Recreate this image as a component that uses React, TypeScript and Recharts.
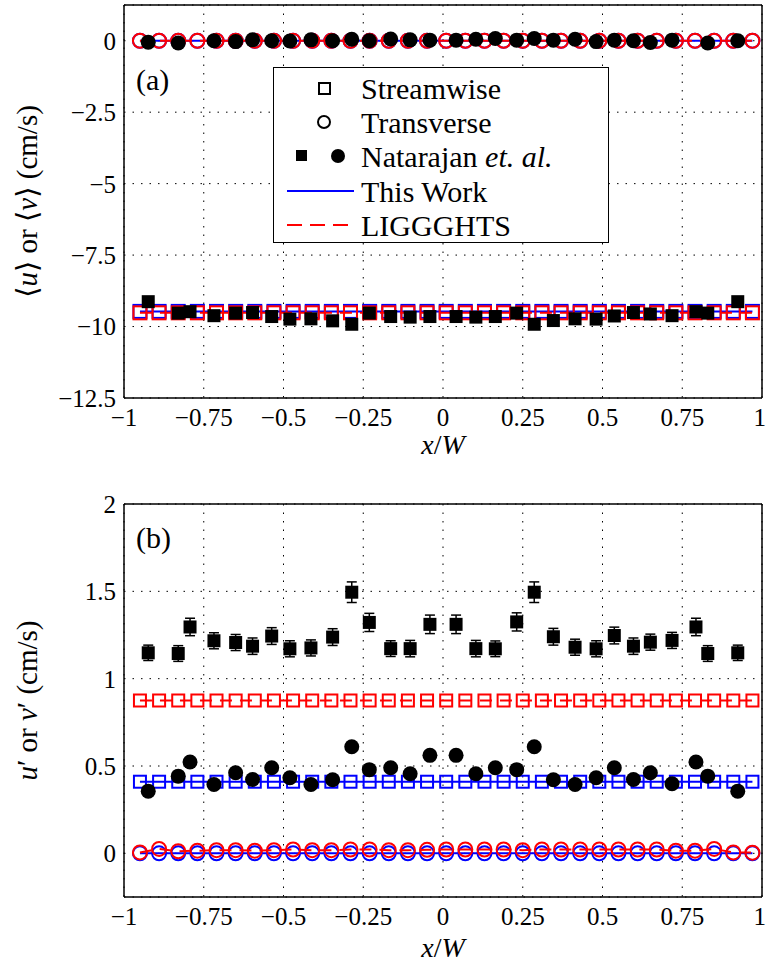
import React from 'react';
import { ComposedChart, Scatter, XAxis, YAxis, CartesianGrid, ErrorBar } from 'recharts';

const FONT = "'Liberation Serif', 'DejaVu Serif', serif";
const BLUE = '#0000ff';
const RED = '#ff0000';

const X_TICKS = [-1, -0.75, -0.5, -0.25, 0, 0.25, 0.5, 0.75, 1];
const Y_TICKS_A = [-12.5, -10, -7.5, -5, -2.5, 0];
const Y_TICKS_B = [0, 0.5, 1, 1.5, 2];

// sample positions of both simulations
const simX = [
  -0.95, -0.89, -0.83, -0.77, -0.71, -0.65, -0.59, -0.53, -0.47, -0.41, -0.35,
  -0.29, -0.23, -0.17, -0.11, -0.05, 0.01, 0.07, 0.13, 0.19, 0.25, 0.31,
  0.37, 0.43, 0.49, 0.55, 0.61, 0.67, 0.73, 0.79, 0.85, 0.91, 0.97,
];

// (a) mean velocity
const thisStreamA = [
  -9.47, -9.47, -9.47, -9.47, -9.47, -9.47, -9.47, -9.47, -9.47, -9.47, -9.47,
  -9.47, -9.47, -9.47, -9.47, -9.47, -9.47, -9.47, -9.47, -9.47, -9.47, -9.47,
  -9.47, -9.47, -9.47, -9.47, -9.47, -9.47, -9.47, -9.47, -9.47, -9.47, -9.47,
];
const liggStreamA = [
  -9.52, -9.52, -9.52, -9.52, -9.52, -9.52, -9.52, -9.52, -9.52, -9.52, -9.52,
  -9.52, -9.52, -9.52, -9.52, -9.52, -9.52, -9.52, -9.52, -9.52, -9.52, -9.52,
  -9.52, -9.52, -9.52, -9.52, -9.52, -9.52, -9.52, -9.52, -9.52, -9.52, -9.52,
];
const thisTransA = [
  0, 0, 0, 0, 0, 0, 0, 0, 0, 0, 0, 0, 0, 0, 0, 0, 0,
  0, 0, 0, 0, 0, 0, 0, 0, 0, 0, 0, 0, 0, 0, 0, 0,
];
const liggTransA = [
  0, 0, 0, 0, 0, 0, 0, 0, 0, 0, 0, 0, 0, 0, 0, 0, 0,
  0, 0, 0, 0, 0, 0, 0, 0, 0, 0, 0, 0, 0, 0, 0, 0,
];

// (b) fluctuations
const thisStreamB = [
  0.41, 0.41, 0.41, 0.41, 0.41, 0.41, 0.41, 0.41, 0.41, 0.41, 0.41,
  0.41, 0.41, 0.41, 0.41, 0.41, 0.41, 0.41, 0.41, 0.41, 0.41, 0.41,
  0.41, 0.41, 0.41, 0.41, 0.41, 0.41, 0.41, 0.41, 0.41, 0.41, 0.41,
];
const liggStreamB = [
  0.875, 0.875, 0.875, 0.875, 0.875, 0.875, 0.875, 0.875, 0.875, 0.875, 0.875,
  0.875, 0.875, 0.875, 0.875, 0.875, 0.875, 0.875, 0.875, 0.875, 0.875, 0.875,
  0.875, 0.875, 0.875, 0.875, 0.875, 0.875, 0.875, 0.875, 0.875, 0.875, 0.875,
];
const thisTransB = [
  0, 0, 0, 0, 0, 0, 0, 0, 0, 0, 0, 0, 0, 0, 0, 0, 0,
  0, 0, 0, 0, 0, 0, 0, 0, 0, 0, 0, 0, 0, 0, 0, 0,
];
const liggTransB = [
  0.005, 0.025, 0.012, 0.015, 0.018, 0.018, 0.015, 0.018, 0.022, 0.018, 0.018,
  0.022, 0.022, 0.018, 0.018, 0.02, 0.022, 0.022, 0.022, 0.022, 0.018, 0.022,
  0.022, 0.022, 0.022, 0.022, 0.022, 0.022, 0.015, 0.015, 0.025, 0.005, 0.004,
];

// Natarajan et al. measurements
const natX = [
  -0.924, -0.83, -0.793, -0.718, -0.65, -0.597, -0.537, -0.48, -0.414, -0.346,
  -0.286, -0.231, -0.164, -0.103, -0.041, 0.041, 0.103, 0.164, 0.231, 0.286,
  0.346, 0.414, 0.48, 0.537, 0.597, 0.65, 0.718, 0.793, 0.83, 0.924,
];
const natStreamA = [
  -9.13, -9.53, -9.48, -9.62, -9.53, -9.51, -9.65, -9.74, -9.73, -9.8,
  -9.92, -9.53, -9.65, -9.67, -9.65, -9.65, -9.67, -9.65, -9.53, -9.92,
  -9.79, -9.73, -9.74, -9.63, -9.51, -9.56, -9.62, -9.48, -9.53, -9.13,
];
const natTransA = [
  -0.05, -0.08, null, 0, -0.03, 0.03, 0, -0.01, 0.03, 0,
  0.05, 0, 0.06, 0.03, 0.02, 0.02, 0.05, 0.08, 0.02, 0.08,
  0.02, 0.05, -0.03, 0.02, 0, -0.06, 0.02, null, -0.08, 0,
];
const natStreamB = [
  1.148, 1.144, 1.296, 1.217, 1.207, 1.186, 1.244, 1.171, 1.176, 1.238,
  1.495, 1.322, 1.172, 1.172, 1.311, 1.311, 1.172, 1.171, 1.325, 1.495,
  1.24, 1.18, 1.171, 1.247, 1.186, 1.209, 1.219, 1.296, 1.144, 1.148,
];
const natStreamErrB = [
  0.044, 0.045, 0.05, 0.046, 0.046, 0.047, 0.048, 0.046, 0.046, 0.048,
  0.059, 0.052, 0.045, 0.047, 0.053, 0.053, 0.047, 0.045, 0.052, 0.059,
  0.048, 0.046, 0.046, 0.048, 0.047, 0.046, 0.046, 0.05, 0.045, 0.044,
];
const natTransB = [
  0.356, 0.442, 0.523, 0.394, 0.461, 0.423, 0.49, 0.433, 0.394, 0.421,
  0.61, 0.479, 0.49, 0.456, 0.561, 0.561, 0.456, 0.49, 0.479, 0.61,
  0.421, 0.394, 0.433, 0.49, 0.423, 0.461, 0.398, 0.523, 0.442, 0.356,
];

const pts = (xs: number[], ys: (number | null)[], err?: number[]) =>
  xs
    .map((x, i) => ({ x, y: ys[i], err: err ? err[i] : 0 }))
    .filter((p) => p.y !== null);

const fmt = (v: number) => (v < 0 ? '\u2212' : '') + String(Math.abs(v));

// marker shapes
const openSquare = (color: string, s = 13) => (p: any) => (
  <rect x={p.cx - s / 2} y={p.cy - s / 2} width={s} height={s} fill="none" stroke={color} strokeWidth={2} />
);
const openCircle = (color: string, r = 7) => (p: any) => (
  <circle cx={p.cx} cy={p.cy} r={r} fill="none" stroke={color} strokeWidth={2} />
);
const blackSquare = (p: any) => <rect x={p.cx - 6.5} y={p.cy - 6.5} width={13} height={13} fill="#000" />;
const blackCircle = (p: any) => <circle cx={p.cx} cy={p.cy} r={7.5} fill="#000" />;

const solid = (c: string) => ({ stroke: c, strokeWidth: 2 });
const dashed = (c: string) => ({ stroke: c, strokeWidth: 2, strokeDasharray: '12 8' });

const tickStyle = { fill: '#000', fontSize: 25, fontFamily: FONT };

const yLabel = (content: React.ReactNode, tag: string, tagY: number) => (props: any) => {
  const vb = props.viewBox;
  const cy = vb.y + vb.height / 2;
  return (
    <g>
      <text x={37} y={cy} transform={`rotate(-90 37 ${cy})`} textAnchor="middle" fontSize={29} fontFamily={FONT} fill="#000">
        {content}
      </text>
      <text x={vb.x + vb.width + 12} y={vb.y + tagY} fontSize={30} fontFamily={FONT} fill="#000">
        {tag}
      </text>
    </g>
  );
};

const xLabel = (dy: number) => (props: any) => {
  const vb = props.viewBox;
  return (
    <text x={vb.x + vb.width / 2} y={vb.y + dy} textAnchor="middle" fontSize={28} fontFamily={FONT} fill="#000">
      <tspan fontStyle="italic">x</tspan>/<tspan fontStyle="italic">W</tspan>
    </text>
  );
};

interface PanelProps {
  height: number;
  marginTop: number;
  marginBottom: number;
  domain: [number, number];
  yTicks: number[];
  label: any;
  xLabelDy: number;
  children: React.ReactNode;
}

const Panel = ({ height, marginTop, marginBottom, domain, yTicks, label, xLabelDy, children }: PanelProps) => (
  <ComposedChart width={766} height={height} margin={{ top: marginTop, right: 4, bottom: marginBottom, left: 0 }}>
    <CartesianGrid xAxisId="x" yAxisId="y" stroke="#000" strokeDasharray="1.5 7" strokeWidth={1} />
    <XAxis
      xAxisId="x" type="number" dataKey="x" domain={[-1, 1]} ticks={X_TICKS} allowDataOverflow
      tickFormatter={fmt} tick={tickStyle} tickLine={false} tickSize={0} tickMargin={10} height={57}
      axisLine={{ stroke: '#000', strokeWidth: 1.5 }} label={{ content: xLabel(xLabelDy) }}
    />
    <XAxis xAxisId="xt" orientation="top" mirror type="number" domain={[-1, 1]} ticks={X_TICKS} allowDataOverflow
      tick={false} tickSize={6} tickLine={{ stroke: '#000' }} axisLine={{ stroke: '#000', strokeWidth: 1.5 }} height={2} />
    <XAxis xAxisId="xb" orientation="bottom" mirror type="number" domain={[-1, 1]} ticks={X_TICKS} allowDataOverflow
      tick={false} tickSize={6} tickLine={{ stroke: '#000' }} axisLine={false} height={2} />
    <YAxis
      yAxisId="y" type="number" dataKey="y" domain={domain} ticks={yTicks} allowDataOverflow
      tickFormatter={fmt} tick={tickStyle} tickLine={false} tickSize={0} tickMargin={8} width={124}
      axisLine={{ stroke: '#000', strokeWidth: 1.5 }} label={{ content: label }}
    />
    <YAxis yAxisId="yl" orientation="left" mirror type="number" domain={domain} ticks={yTicks} allowDataOverflow
      tick={false} tickSize={6} tickLine={{ stroke: '#000' }} axisLine={false} width={2} />
    <YAxis yAxisId="yr" orientation="right" mirror type="number" domain={domain} ticks={yTicks} allowDataOverflow
      tick={false} tickSize={6} tickLine={{ stroke: '#000' }} axisLine={{ stroke: '#000', strokeWidth: 1.5 }} width={2} />
    {children}
  </ComposedChart>
);

const LegendBox = () => (
  <div style={{ position: 'absolute', left: 273, top: 67, width: 336, height: 176, background: '#fff', border: '1.5px solid #000', boxSizing: 'border-box' }}>
    <svg width={333} height={173} style={{ position: 'absolute', left: 0, top: 0 }}>
      <g fontFamily={FONT} fontSize={30} fill="#000">
        <rect x={45} y={15} width={11} height={11} fill="none" stroke="#000" strokeWidth={2} />
        <text x={87} y={31}>Streamwise</text>
        <circle cx={50} cy={54} r={6} fill="none" stroke="#000" strokeWidth={2} />
        <text x={87} y={65}>Transverse</text>
        <rect x={22} y={82} width={11} height={11} fill="#000" />
        <circle cx={64} cy={88} r={7} fill="#000" />
        <text x={87} y={99}>Natarajan <tspan fontStyle="italic">et. al.</tspan></text>
        <line x1={13} x2={80} y1={123} y2={123} stroke={BLUE} strokeWidth={2} />
        <text x={87} y={134}>This Work</text>
        <line x1={13} x2={80} y1={157} y2={157} stroke={RED} strokeWidth={2} strokeDasharray="15 8" />
        <text x={87} y={168}>LIGGGHTS</text>
      </g>
    </svg>
  </div>
);

export default function App() {
  const labelA = yLabel(
    <>
      ⟨<tspan fontStyle="italic">u</tspan>⟩ or ⟨<tspan fontStyle="italic">v</tspan>⟩ (cm/s)
    </>,
    '(a)', 85
  );
  const labelB = yLabel(
    <>
      <tspan fontStyle="italic">u</tspan>′ or <tspan fontStyle="italic">v</tspan>′ (cm/s)
    </>,
    '(b)', 44
  );
  return (
    <div style={{ position: 'absolute', left: 0, top: 0, width: 766, height: 973, background: '#fff', fontFamily: FONT }}>
      <div style={{ position: 'absolute', left: 0, top: 0 }}>
        <Panel height={460} marginTop={5} marginBottom={5} domain={[-12.5, 1.25]} yTicks={Y_TICKS_A} label={labelA} xLabelDy={56}>
          <Scatter xAxisId="x" yAxisId="y" data={pts(simX, thisStreamA)} shape={openSquare(BLUE)} line={solid(BLUE)} isAnimationActive={false} />
          <Scatter xAxisId="x" yAxisId="y" data={pts(simX, thisTransA)} shape={openCircle(BLUE)} line={solid(BLUE)} isAnimationActive={false} />
          <Scatter xAxisId="x" yAxisId="y" data={pts(simX, liggStreamA)} shape={openSquare(RED)} line={dashed(RED)} isAnimationActive={false} />
          <Scatter xAxisId="x" yAxisId="y" data={pts(simX, liggTransA)} shape={openCircle(RED)} line={dashed(RED)} isAnimationActive={false} />
          <Scatter xAxisId="x" yAxisId="y" data={pts(natX, natStreamA)} shape={blackSquare} isAnimationActive={false} />
          <Scatter xAxisId="x" yAxisId="y" data={pts(natX, natTransA)} shape={blackCircle} isAnimationActive={false} />
        </Panel>
        <LegendBox />
      </div>
      <div style={{ position: 'absolute', left: 0, top: 460 }}>
        <Panel height={513} marginTop={44} marginBottom={19} domain={[-0.25, 2]} yTicks={Y_TICKS_B} label={labelB} xLabelDy={60}>
          <Scatter xAxisId="x" yAxisId="y" data={pts(simX, thisStreamB)} shape={openSquare(BLUE, 12)} line={solid(BLUE)} isAnimationActive={false} />
          <Scatter xAxisId="x" yAxisId="y" data={pts(simX, thisTransB)} shape={openCircle(BLUE)} line={solid(BLUE)} isAnimationActive={false} />
          <Scatter xAxisId="x" yAxisId="y" data={pts(simX, liggStreamB)} shape={openSquare(RED, 12)} line={dashed(RED)} isAnimationActive={false} />
          <Scatter xAxisId="x" yAxisId="y" data={pts(simX, liggTransB)} shape={openCircle(RED)} line={dashed(RED)} isAnimationActive={false} />
          <Scatter xAxisId="x" yAxisId="y" data={pts(natX, natStreamB, natStreamErrB)} shape={blackSquare} isAnimationActive={false}>
            <ErrorBar dataKey="err" direction="y" width={5} stroke="#000" strokeWidth={1.5} />
          </Scatter>
          <Scatter xAxisId="x" yAxisId="y" data={pts(natX, natTransB)} shape={blackCircle} isAnimationActive={false} />
        </Panel>
      </div>
    </div>
  );
}
